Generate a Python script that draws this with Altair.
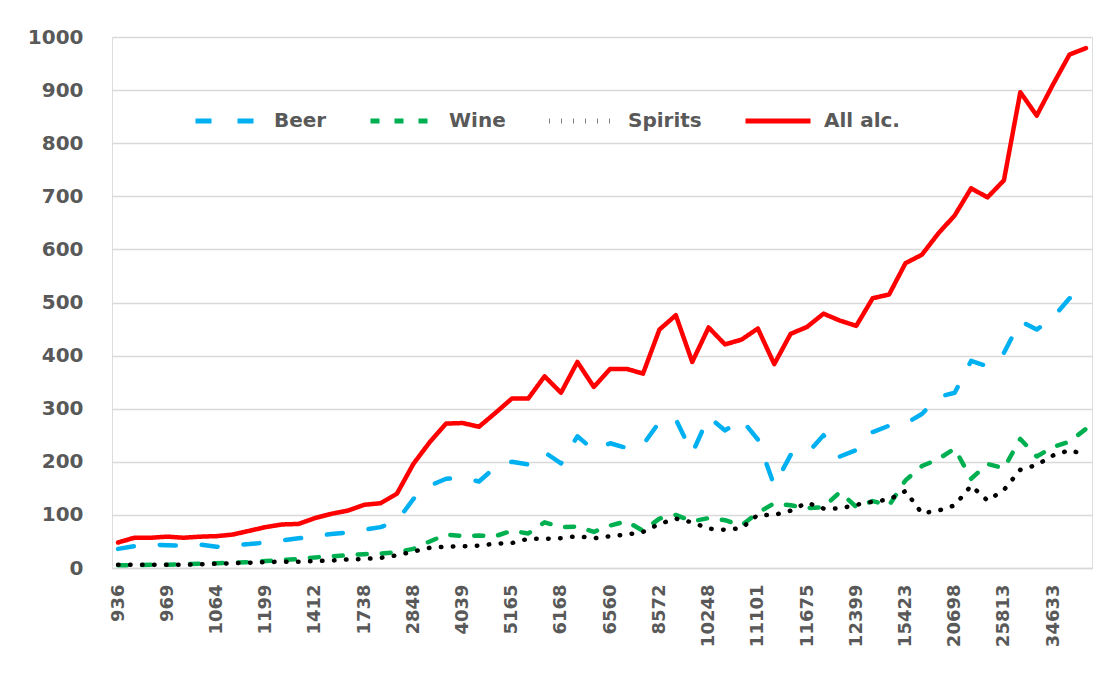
import altair as alt
import pandas as pd

categories = ["936", "947", "958", "969", "1000", "1032", "1064", "1109", "1154", "1199",
              "1270", "1341", "1412", "1521", "1630", "1738", "2108", "2478", "2848", "3245",
              "3642", "4039", "4414", "4790", "5165", "5499", "5834", "6168", "6299", "6429",
              "6560", "7231", "7901", "8572", "9131", "9689", "10248", "10532", "10817", "11101",
              "11292", "11484", "11675", "11916", "12158", "12399", "13407", "14415", "15423", "17181",
              "18940", "20698", "22403", "24108", "25813", "28753", "31693", "34633", "37000", "40000"]

tick_labels = ["936", "969", "1064", "1199", "1412", "1738", "2848", "4039", "5165", "6168",
               "6560", "8572", "10248", "11101", "11675", "12399", "15423", "20698", "25813", "34633"]

beer = [36, 41, 44, 43, 42, 44, 40, 43, 45, 48,
        52, 56, 60, 64, 67, 72, 77, 88, 130, 155,
        168, 170, 163, 190, 200, 195, 218, 197, 248, 222,
        235, 226, 232, 275, 280, 216, 285, 259, 280, 242,
        155, 213, 215, 250, 210, 222, 256, 268, 272, 290,
        322, 330, 390, 380, 405, 465, 449, 472, 508, 505]

wine = [5, 5, 6, 6, 7, 8, 9, 10, 11, 13,
        15, 17, 20, 22, 24, 26, 27, 30, 36, 50,
        63, 60, 61, 60, 70, 65, 86, 77, 78, 68,
        80, 88, 70, 93, 100, 88, 94, 90, 80, 104,
        122, 118, 113, 114, 143, 115, 126, 118, 165, 192,
        205, 225, 168, 196, 188, 243, 210, 228, 238, 262]

spirits = [6, 6, 6, 6, 6, 7, 8, 9, 10, 11,
           12, 12, 13, 14, 16, 17, 19, 24, 31, 38,
           40, 41, 42, 46, 47, 55, 55, 56, 60, 56,
           60, 63, 68, 83, 93, 86, 74, 72, 75, 100,
           100, 108, 123, 112, 112, 119, 125, 129, 145, 103,
           108, 118, 155, 127, 147, 185, 194, 212, 222, 213]

all_alc = [48, 57, 57, 59, 57, 59, 60, 63, 70, 77,
           82, 83, 94, 102, 108, 119, 122, 140, 196, 237,
           272, 273, 266, 292, 319, 319, 361, 330, 388, 341,
           375, 375, 366, 449, 476, 388, 453, 421, 430, 451,
           384, 441, 454, 479, 466, 456, 508, 515, 574, 590,
           630, 664, 715, 698, 730, 896, 852, 911, 967, 979]

series_names = ["Beer", "Wine", "Spirits", "All alc."]
series_colors = ["#00B0F0", "#00B050", "#000000", "#FF0000"]
series_dash = [[16, 26], [9, 15], [0.5, 11.5], [1, 0]]
y_ticks = [0, 100, 200, 300, 400, 500, 600, 700, 800, 900, 1000]

rows = []
for name, vals in zip(series_names, [beer, wine, spirits, all_alc]):
    for i, (c, v) in enumerate(zip(categories, vals)):
        rows.append({"cat": c, "idx": i, "series": name, "value": v})
df = pd.DataFrame(rows)

FONT = "DejaVu Sans"
GRAY = "#595959"
GRID = "#d9d9d9"

legend = alt.Legend(
    title=None, orient="none", legendX=81, legendY=49, direction="horizontal",
    symbolType="stroke", symbolSize=4225, symbolStrokeWidth=5,
    labelFont=FONT, labelFontSize=20, labelFontWeight="bold", labelColor=GRAY,
    labelOffset=11, columnPadding=33, padding=0,
)

chart = alt.Chart(df).mark_line(strokeWidth=4.5, strokeCap="round", strokeJoin="round").encode(
    x=alt.X("cat:O", sort=categories, title=None,
            scale=alt.Scale(type="point", padding=0.37),
            axis=alt.Axis(values=tick_labels, labelAngle=-90, labelOverlap=False,
                          labelFont=FONT, labelFontSize=18, labelFontWeight="bold",
                          labelColor=GRAY, labelPadding=16, ticks=False,
                          domainColor=GRID, domainWidth=1.5, grid=False)),
    y=alt.Y("value:Q", title=None,
            scale=alt.Scale(domain=[0, 1000], nice=False),
            axis=alt.Axis(values=y_ticks, format="d", labelFont=FONT, labelFontSize=20,
                          labelFontWeight="bold", labelColor=GRAY, labelPadding=29,
                          ticks=False, domain=False, grid=True, gridColor=GRID,
                          gridWidth=1.5)),
    color=alt.Color("series:N", sort=series_names,
                    scale=alt.Scale(domain=series_names, range=series_colors),
                    legend=legend),
    strokeDash=alt.StrokeDash("series:N", sort=series_names,
                              scale=alt.Scale(domain=series_names, range=series_dash),
                              legend=legend),
    order=alt.Order("idx:Q"),
).properties(
    width=980, height=531,
    autosize=alt.AutoSizeParams(type="none"),
    padding={"left": 104, "top": 29, "right": 9, "bottom": 90},
).configure_view(strokeWidth=0).configure(background="white")

chart.save("out.html", embed_options={"renderer": "svg", "actions": False})
